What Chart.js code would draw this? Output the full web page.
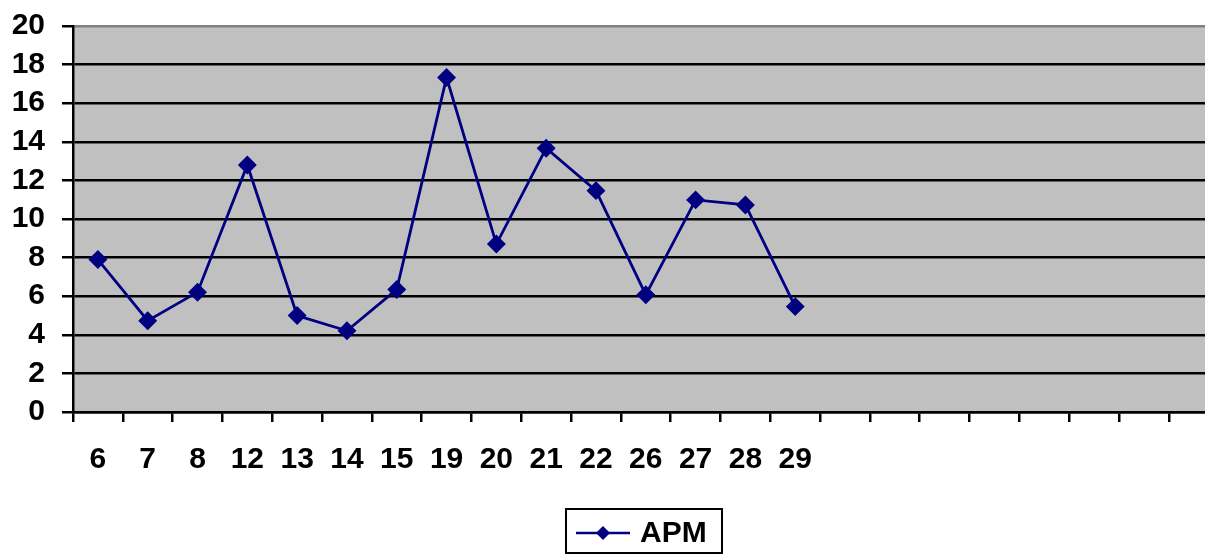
<!DOCTYPE html>
<html>
<head>
<meta charset="utf-8">
<script src="https://cdn.jsdelivr.net/npm/chart.js@4"></script>
<style>
  html, body { margin: 0; padding: 0; background: #ffffff; overflow: hidden; }
  #wrap { width: 1205px; height: 557px; overflow: hidden; }
  canvas { display: block; }
</style>
</head>
<body>
<div id="wrap"><canvas id="c" width="1240" height="557"></canvas></div>
<script>
// ---- data ----
const categories = ['6','7','8','12','13','14','15','19','20','21','22','26','27','28','29','','','','','','','',''];
const apmValues = [7.9, 4.73, 6.21, 12.8, 5.0, 4.21, 6.35, 17.33, 8.7, 13.67, 11.47, 6.07, 10.99, 10.73, 5.46];
const seriesName = 'APM';
const yTicks = [0, 2, 4, 6, 8, 10, 12, 14, 16, 18, 20];

const FONT = { family: '"Liberation Sans", Arial, sans-serif', size: 30, weight: 'bold' };
const NAVY = '#000080';

const plotBg = {
  id: 'plotBg',
  beforeDraw(chart) {
    const a = chart.chartArea, ctx = chart.ctx;
    ctx.save();
    ctx.fillStyle = '#C0C0C0';
    ctx.fillRect(a.left, a.top, a.right - a.left, a.bottom - a.top);
    ctx.restore();
  }
};

const boxLegend = {
  id: 'boxLegend',
  afterDraw(chart) {
    const ctx = chart.ctx;
    const ds = chart.data.datasets[0];
    ctx.save();
    ctx.strokeStyle = '#000';
    ctx.lineWidth = 2;
    ctx.strokeRect(566, 509, 156, 44);
    const cy = 533;
    ctx.strokeStyle = ds.borderColor;
    ctx.lineWidth = 2.5;
    ctx.beginPath(); ctx.moveTo(576, cy); ctx.lineTo(630, cy); ctx.stroke();
    ctx.fillStyle = ds.pointBackgroundColor;
    const mx = 603, r = 7;
    ctx.beginPath();
    ctx.moveTo(mx, cy - r); ctx.lineTo(mx + r, cy); ctx.lineTo(mx, cy + r); ctx.lineTo(mx - r, cy);
    ctx.closePath(); ctx.fill();
    ctx.fillStyle = '#000';
    ctx.font = `${FONT.weight} ${FONT.size}px ${FONT.family}`;
    ctx.textAlign = 'left';
    ctx.textBaseline = 'middle';
    ctx.fillText(ds.label, 640, cy + 1);
    ctx.restore();
  }
};

new Chart(document.getElementById('c'), {
  type: 'line',
  data: {
    labels: categories,
    datasets: [{
      label: seriesName,
      data: apmValues,
      borderColor: NAVY,
      backgroundColor: NAVY,
      pointBackgroundColor: NAVY,
      pointBorderColor: NAVY,
      borderWidth: 2.8,
      pointStyle: 'rectRot',
      pointRadius: 7.5,
      pointHoverRadius: 7.5,
      tension: 0,
      fill: false
    }]
  },
  options: {
    responsive: false,
    animation: false,
    devicePixelRatio: 1,
    layout: { padding: { top: 26, left: 0, right: 21.4, bottom: 0 } },
    plugins: {
      legend: { display: false },
      tooltip: { enabled: false }
    },
    scales: {
      x: {
        type: 'category',
        offset: true,
        grid: {
          display: true,
          offset: true,
          drawOnChartArea: false,
          drawTicks: true,
          tickLength: 10,
          tickColor: '#000',
          tickWidth: 2.5,
          lineWidth: 2.5,
          color: '#000'
        },
        border: { display: true, color: '#000', width: 2.5 },
        ticks: {
          autoSkip: false,
          maxRotation: 0,
          minRotation: 0,
          padding: 20,
          color: '#000',
          font: FONT
        },
        afterFit(scale) { scale.height = 145; scale.paddingLeft = 0; scale.paddingRight = 0; }
      },
      y: {
        min: 0,
        max: 20,
        afterBuildTicks(scale) { scale.ticks = yTicks.map(v => ({ value: v })); },
        grid: {
          color: (c) => (c.tick && c.tick.value === 20) ? '#808080' : '#000',
          lineWidth: 2.5,
          tickLength: 11,
          tickColor: '#000',
          tickWidth: 2.5
        },
        border: { display: true, color: '#000', width: 2.5 },
        ticks: {
          autoSkip: false,
          padding: 17,
          color: '#000',
          font: FONT
        },
        afterFit(scale) { scale.width = 73; scale.paddingTop = 0; scale.paddingBottom = 0; }
      }
    }
  },
  plugins: [plotBg, boxLegend]
});
</script>
</body>
</html>
